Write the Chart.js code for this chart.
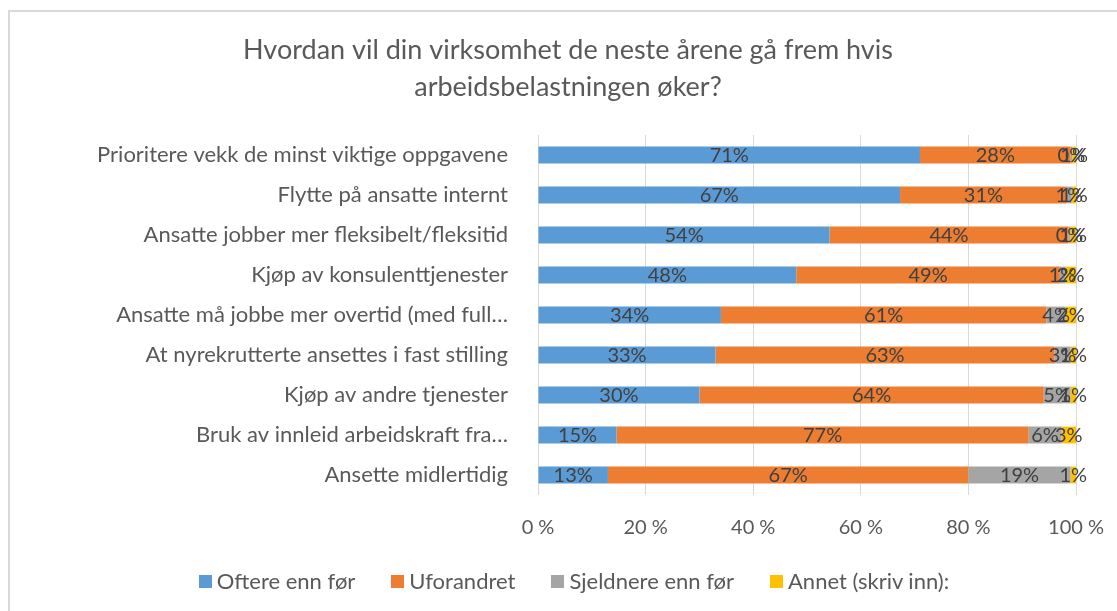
<!DOCTYPE html>
<html lang="no">
  <head>
    <meta charset="UTF-8" />
    <title>Arbeidsbelastning</title>
    <script src="https://cdn.jsdelivr.net/npm/chart.js@4.4.1/dist/chart.umd.min.js"></script>
    <style>
      html,
      body {
        margin: 0;
        padding: 0;
        background: #fff;
        overflow: hidden;
      }
      .frame {
        position: absolute;
        left: 8px;
        top: 10px;
        width: 1200px;
        height: 700px;
        border: 2px solid #d9d9d9;
      }
      .chart-container {
        position: absolute;
        left: 0;
        top: 0;
        width: 1117px;
        height: 611px;
      }
      #legend {
        position: absolute;
        left: 0;
        top: 568px;
        width: 1148px;
        display: flex;
        justify-content: center;
        font-family: Lato, "Open Sans", sans-serif;
        font-size: 22px;
        color: #595959;
        line-height: 26px;
      }
      #legend .item {
        display: flex;
        align-items: center;
        margin-right: 36px;
      }
      #legend .item:last-child {
        margin-right: 0;
      }
      #legend .box {
        width: 13px;
        height: 13px;
        margin-right: 5px;
      }
    </style>
  </head>
  <body>
    <div class="frame"></div>
    <div class="chart-container">
      <canvas id="chart-arbeid"></canvas>
    </div>
    <div id="legend"></div>
    <script>
      const kategorier = [
        "Prioritere vekk de minst viktige oppgavene",
        "Flytte på ansatte internt",
        "Ansatte jobber mer fleksibelt/fleksitid",
        "Kjøp av konsulenttjenester",
        "Ansatte må jobbe mer overtid (med full…",
        "At nyrekrutterte ansettes i fast stilling",
        "Kjøp av andre tjenester",
        "Bruk av innleid arbeidskraft fra…",
        "Ansette midlertidig",
      ];
      const serier = ["Oftere enn før", "Uforandret", "Sjeldnere enn før", "Annet (skriv inn):"];
      const oftere = [71, 67.3, 54.2, 48, 34, 33, 30, 14.6, 13];
      const uforandret = [28, 31, 44.4, 49, 60.5, 63, 64, 76.6, 67];
      const sjeldnere = [0.3, 0.9, 0.4, 1, 3.6, 3, 5, 6.1, 19];
      const annet = [0.7, 0.8, 1, 2, 1.9, 1, 1, 2.7, 1];
      const xTicks = [0, 20, 40, 60, 80, 100];
      const farger = ["#5b9bd5", "#ed7d31", "#a5a5a5", "#ffc000"];

      const fontFamily = "Lato, 'Open Sans', sans-serif";
      const textColor = "#595959";

      // etiketter midt i hver bit av stolpen
      const barLabels = {
        id: "barLabels",
        afterDatasetsDraw(chart) {
          const ctx = chart.ctx;
          ctx.save();
          ctx.font = "20px " + fontFamily;
          ctx.fillStyle = "#404040";
          ctx.textAlign = "center";
          ctx.textBaseline = "middle";
          chart.data.datasets.forEach((ds, i) => {
            const meta = chart.getDatasetMeta(i);
            meta.data.forEach((bar, j) => {
              const v = ds.data[j];
              ctx.fillText(Math.round(v) + "%", (bar.x + bar.base) / 2, bar.y + 1);
            });
          });
          ctx.restore();
        },
      };

      const ctx = document.getElementById("chart-arbeid").getContext("2d");

      const chart = new Chart(ctx, {
        type: "bar",
        data: {
          labels: kategorier,
          datasets: [oftere, uforandret, sjeldnere, annet].map((d, i) => ({
            label: serier[i],
            data: d,
            backgroundColor: farger[i],
          })),
        },
        options: {
          indexAxis: "y",
          responsive: true,
          maintainAspectRatio: false,
          animation: false,
          barPercentage: 0.42,
          categoryPercentage: 1,
          layout: {
            padding: { left: 60, right: 41, top: 0, bottom: 56 },
          },
          scales: {
            x: {
              stacked: true,
              min: 0,
              max: 100,
              afterBuildTicks(scale) {
                scale.ticks = xTicks.map((v) => ({ value: v }));
              },
              afterFit(scale) {
                scale.height = 60;
                scale.paddingLeft = 0;
                scale.paddingRight = 0;
              },
              grid: { color: "#d9d9d9", drawTicks: false },
              border: { display: false },
              ticks: {
                padding: 21,
                color: textColor,
                font: { family: fontFamily, size: 20 },
                callback: (v) => v + " %",
              },
            },
            y: {
              stacked: true,
              grid: { display: false },
              border: { display: false },
              afterFit(scale) {
                scale.width = 478;
              },
              ticks: {
                padding: 22,
                color: textColor,
                font: { family: fontFamily, size: 22 },
                autoSkip: false,
              },
            },
          },
          plugins: {
            title: {
              display: true,
              text: [
                "Hvordan vil din virksomhet de neste årene gå frem hvis",
                "arbeidsbelastningen øker?",
              ],
              color: textColor,
              font: { family: fontFamily, size: 27, weight: "normal", lineHeight: 1.37 },
              padding: { top: 31.5, bottom: 29.5 },
            },
            legend: { display: false },
            tooltip: { enabled: false },
          },
        },
        plugins: [barLabels],
      });

      // forklaring under diagrammet
      const legendEl = document.getElementById("legend");
      chart.data.datasets.forEach((ds) => {
        const item = document.createElement("div");
        item.className = "item";
        const box = document.createElement("span");
        box.className = "box";
        box.style.background = ds.backgroundColor;
        const txt = document.createElement("span");
        txt.textContent = ds.label;
        item.appendChild(box);
        item.appendChild(txt);
        legendEl.appendChild(item);
      });
    </script>
  </body>
</html>
